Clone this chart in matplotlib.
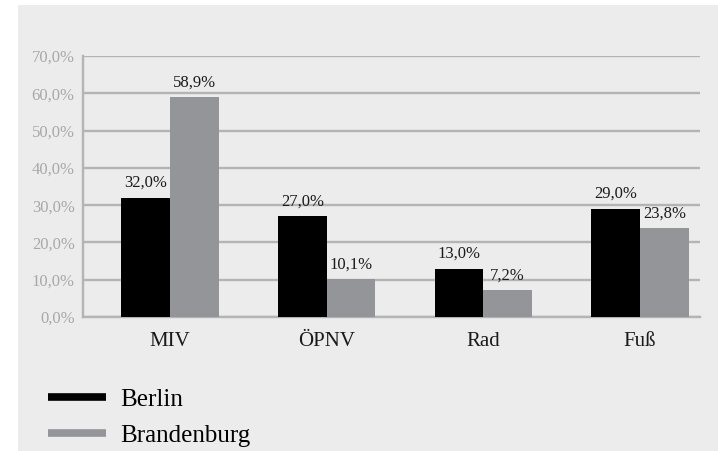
import matplotlib
matplotlib.use("Agg")
import matplotlib.pyplot as plt
from matplotlib.patches import Rectangle
from matplotlib.lines import Line2D
import numpy as np

categories = ["MIV", "ÖPNV", "Rad", "Fuß"]
berlin = [32.0, 27.0, 13.0, 29.0]
brandenburg = [58.9, 10.1, 7.2, 23.8]
series_names = ["Berlin", "Brandenburg"]
yticks = [0, 10, 20, 30, 40, 50, 60, 70]

W, H = 718, 451
plt.rcParams["font.family"] = ["Liberation Serif", "DejaVu Serif"]
fig = plt.figure(figsize=(W / 100, H / 100), dpi=100, facecolor="white")

# gray panel
fig.patches.append(Rectangle((18 / W, 0), 1, (H - 5) / H, transform=fig.transFigure,
                             facecolor="#ececec", edgecolor="none", zorder=-10))

ax_left, ax_right = 83, 700
ax_top, ax_bottom = 56, 317
ax = fig.add_axes([ax_left / W, 1 - ax_bottom / H, (ax_right - ax_left) / W, (ax_bottom - ax_top) / H])
ax.set_facecolor("none")
ax.set_zorder(1)

x = np.arange(len(categories))
bw = 0.31
c_b = "#000000"
c_bb = "#939598"
grid_c = "#b4b4b6"

b1 = ax.bar(x - bw / 2, berlin, bw, color=c_b, zorder=3)
b2 = ax.bar(x + bw / 2, brandenburg, bw, color=c_bb, zorder=3)

def fmt(v):
    return f"{v:.1f}%".replace(".", ",")

for bars, vals in ((b1, berlin), (b2, brandenburg)):
    for rect, v in zip(bars, vals):
        ax.annotate(fmt(v), (rect.get_x() + rect.get_width() / 2, v),
                    xytext=(0, 5), textcoords="offset points",
                    ha="center", va="bottom", fontsize=12, color="#1a1a1a")

ax.set_ylim(0, 70)
ax.set_xlim(-0.555, 3.383)
ax.set_yticks(yticks)
ax.set_yticklabels([f"{t:.1f}%".replace(".", ",") for t in yticks], fontsize=12, color="#a8a8aa")
ax.set_xticks(x)
ax.set_xticklabels(categories, fontsize=15, color="#1a1a1a")
ax.tick_params(axis="both", length=0)
ax.tick_params(axis="y", pad=6)
ax.tick_params(axis="x", pad=11)
ax.yaxis.grid(True, color=grid_c, linewidth=1.7, zorder=1)
for s in ("top", "right"):
    ax.spines[s].set_visible(False)
ax.spines["left"].set_color(grid_c)
ax.spines["left"].set_linewidth(1.7)
ax.spines["bottom"].set_color(grid_c)
ax.spines["bottom"].set_linewidth(1.7)

handles = [Line2D([0], [0], color=c_b, lw=5.5, solid_capstyle="butt"),
           Line2D([0], [0], color=c_bb, lw=5.5, solid_capstyle="butt")]
fig.legend(handles, series_names, loc="upper left",
           bbox_to_anchor=(48 / W, 1 - 388 / H), frameon=False,
           fontsize=18, handlelength=2.3, handletextpad=0.6, labelspacing=0.55,
           borderaxespad=0, borderpad=0)

fig.savefig("out.png", dpi=100, facecolor="white")
